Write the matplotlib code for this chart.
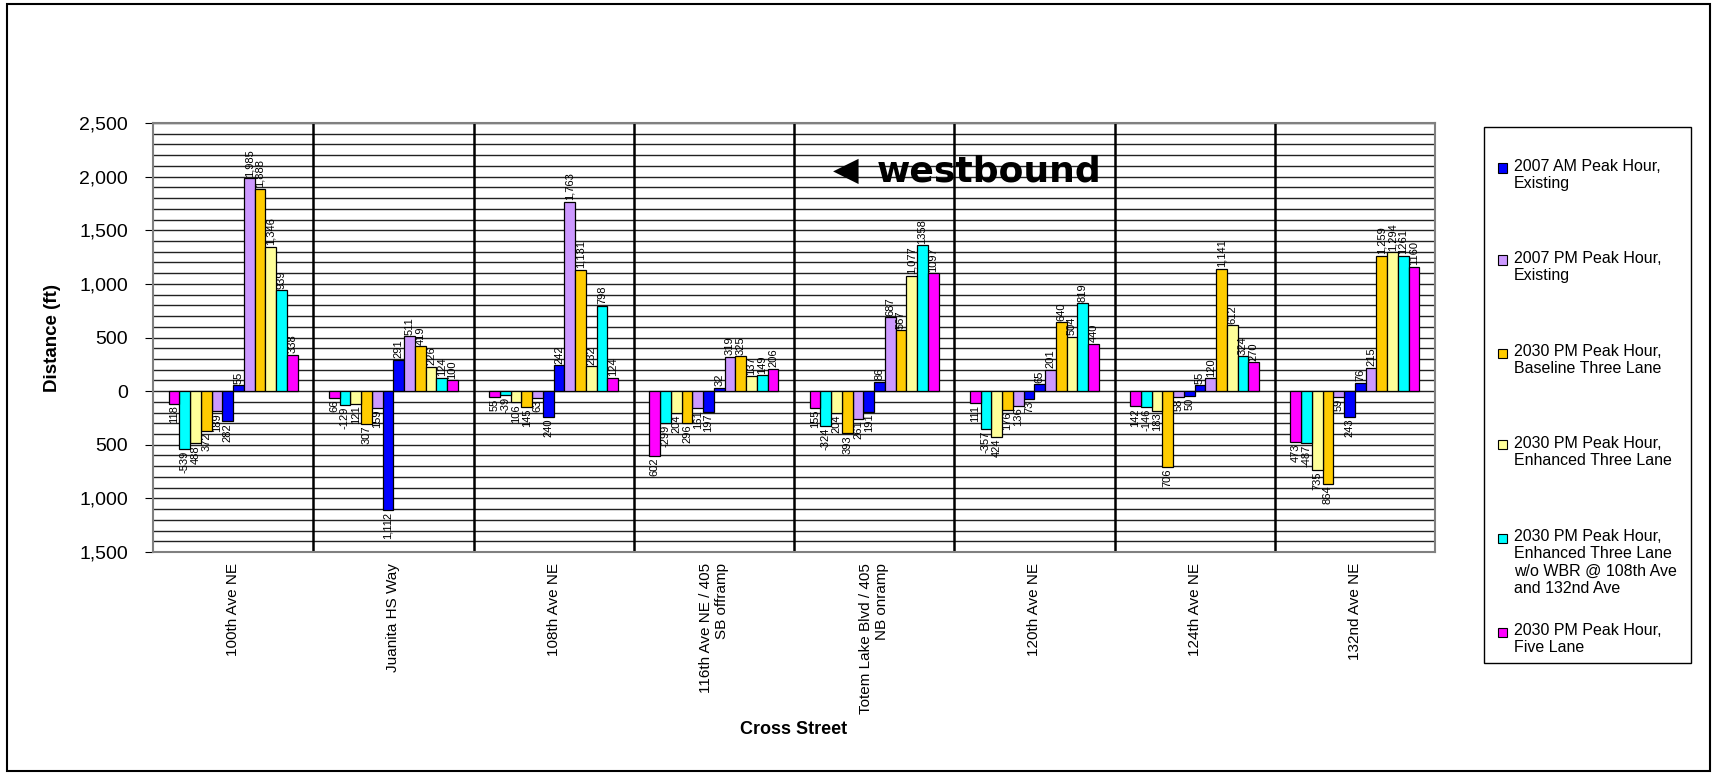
import numpy as np
import matplotlib
matplotlib.use('Agg')
import matplotlib.pyplot as plt
from matplotlib.patches import Rectangle

plt.rcParams['font.family'] = ['Liberation Sans', 'DejaVu Sans']

# cross streets along the corridor
streets = ['100th Ave NE', 'Juanita HS Way', '108th Ave NE', '116th Ave NE / 405\nSB offramp',
           'Totem Lake Blvd / 405\nNB onramp', '120th Ave NE', '124th Ave NE', '132nd Ave NE']

series = ['2007 AM Peak Hour,\nExisting',
          '2007 PM Peak Hour,\nExisting',
          '2030 PM Peak Hour,\nBaseline Three Lane',
          '2030 PM Peak Hour,\nEnhanced Three Lane',
          '2030 PM Peak Hour,\nEnhanced Three Lane\nw/o WBR @ 108th Ave\nand 132nd Ave',
          '2030 PM Peak Hour,\nFive Lane']
colors = ['#0000FF', '#CC99FF', '#FFCC00', '#FFFF99', '#00FFFF', '#FF00FF']

# eastbound queue (drawn below zero) for each series
eb_am07 = [282, 1112, 240, 197, 191, 73, 50, 243]
eb_pm07 = [189, 159, 63, 161, 261, 136, 58, 59]
eb_base = [372, 307, 145, 296, 393, 176, 706, 864]
eb_enh = [488, 121, 106, 204, 204, 424, 183, 735]
eb_nowbr = [539, 129, 39, 299, 324, 357, 146, 487]
eb_five = [118, 66, 55, 602, 155, 111, 142, 473]

# westbound queue (drawn above zero)
wb_am07 = [55, 291, 242, 32, 86, 65, 55, 76]
wb_pm07 = [1985, 511, 1763, 319, 687, 201, 120, 215]
wb_base = [1888, 419, 1131, 325, 567, 640, 1141, 1259]
wb_enh = [1346, 226, 232, 137, 1077, 504, 612, 1294]
wb_nowbr = [939, 124, 798, 149, 1358, 819, 324, 1261]
wb_five = [338, 100, 124, 206, 1097, 440, 270, 1160]

eb = [eb_am07, eb_pm07, eb_base, eb_enh, eb_nowbr, eb_five]
wb = [wb_am07, wb_pm07, wb_base, wb_enh, wb_nowbr, wb_five]
# labels printed without thousands separator in the source
nocomma = [(4, 4), (5, 4), (4, 7), (5, 7)]

fig = plt.figure(figsize=(17.21, 7.74), dpi=100)
ax = fig.add_axes([153/1721, 1-552/774, 1282/1721, 429/774])

x = np.arange(len(streets))
span = 0.805
w = span/12

# left half: eastbound in reverse series order, right half: westbound
for s in range(6):
    k_left = 5 - s
    k_right = 6 + s
    xl = x - span/2 + (k_left + 0.5)*w
    xr = x - span/2 + (k_right + 0.5)*w
    neg = -np.array(eb[s])
    pos = np.array(wb[s])
    ax.bar(xl, neg, w, color=colors[s], edgecolor='black', linewidth=0.9, zorder=3)
    ax.bar(xr, pos, w, color=colors[s], edgecolor='black', linewidth=0.9, zorder=3)
    for i in range(len(streets)):
        lab = str(eb[s][i]) if eb[s][i] < 1000 else '{:,}'.format(eb[s][i])
        if s == 4:
            lab = '-' + lab
        ax.text(xl[i], neg[i] - 15, lab, rotation=90, ha='center', va='top', fontsize=8, zorder=4)
        if (s, i) in nocomma:
            lab = str(wb[s][i])
        else:
            lab = '{:,}'.format(wb[s][i])
        ax.text(xr[i], pos[i] + 15, lab, rotation=90, ha='center', va='bottom', fontsize=8, zorder=4)

# horizontal grid every 100 ft
for g in range(-1500, 2501, 100):
    ax.axhline(g, color='#222222', linewidth=1.0, zorder=0)
for i in range(len(streets) - 1):
    ax.axvline(i + 0.5, color='black', linewidth=1.8, zorder=1)

ax.set_xlim(-0.5, len(streets) - 0.5)
ax.set_ylim(-1500, 2500)
yt = np.arange(-1500, 2501, 500)
ax.set_yticks(yt)
ax.set_yticklabels(['{:,}'.format(abs(v)) for v in yt], fontsize=14)
ax.tick_params(axis='y', direction='out', length=6, pad=12)
ax.set_xticks(x)
ax.set_xticklabels(streets, rotation=90, fontsize=11, multialignment='right')
ax.tick_params(axis='x', length=0, pad=8)
for sp in ax.spines.values():
    sp.set_color('#808080')
    sp.set_linewidth(1.5)

ax.set_ylabel('Distance (ft)', fontsize=13.5, fontweight='bold')
ax.yaxis.set_label_coords(-0.0718, 0.5)
fig.text(794/1721, 1-729/774, 'Cross Street', ha='center', va='center', fontsize=13, fontweight='bold')

# direction note
fig.text(846/1721, 1-170/774, '\u25c0', ha='center', va='center', fontsize=24,
         family=['DejaVu Sans'])
fig.text(877/1721, 1-181/774, 'westbound', ha='left', va='baseline', fontsize=26,
         fontweight='bold', family=['DejaVu Sans'])

# legend drawn by hand
fig.patches.append(Rectangle((1484/1721, 1-663/774), 207/1721, 536/774, transform=fig.transFigure,
                             facecolor='none', edgecolor='black', linewidth=1))
entry_y = [168, 260, 353, 445, 538, 632]
for s in range(6):
    fig.patches.append(Rectangle(((1502-4.5)/1721, 1-(entry_y[s]+4.5)/774), 9/1721, 9/774,
                                 transform=fig.transFigure, facecolor=colors[s],
                                 edgecolor='black', linewidth=0.8))
    fig.text(1514/1721, 1-(entry_y[s]-9)/774, series[s], ha='left', va='top',
             fontsize=11.5, linespacing=1.2)

# outer frame
fig.patches.append(Rectangle((7/1721, 1-771/774), 1703/1721, 767/774, transform=fig.transFigure,
                             facecolor='none', edgecolor='black', linewidth=1.5))

plt.savefig('out.png', dpi=100)
